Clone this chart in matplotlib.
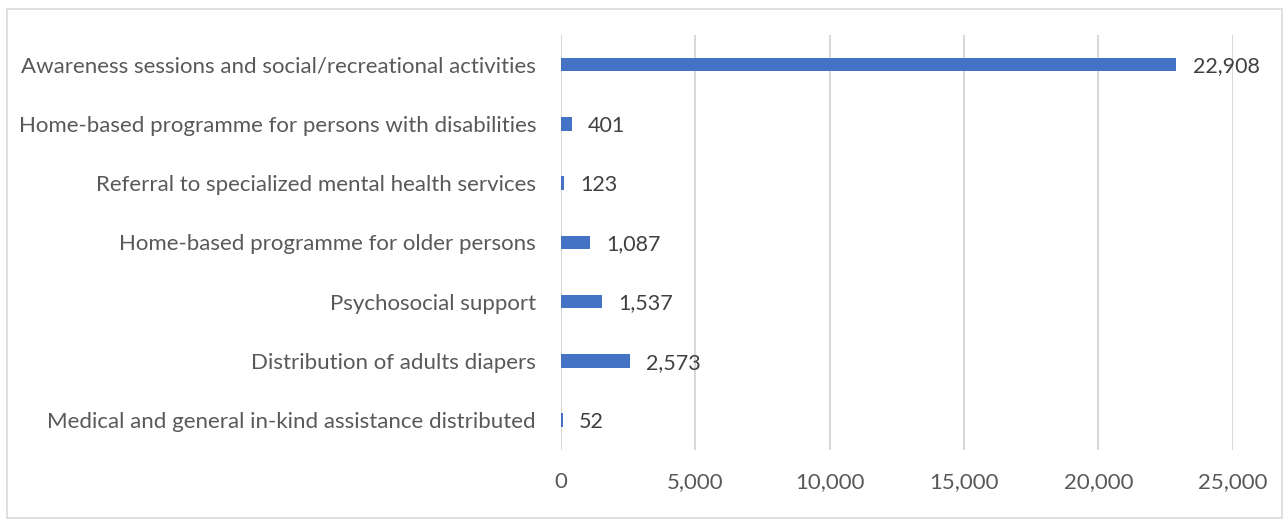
import matplotlib.pyplot as plt
from matplotlib.patches import Rectangle

# data, top to bottom as shown
categories = [
    "Awareness sessions and social/recreational activities",
    "Home-based programme for persons with disabilities",
    "Referral to specialized mental health services",
    "Home-based programme for older persons",
    "Psychosocial support",
    "Distribution of adults diapers",
    "Medical and general in-kind assistance distributed",
]
values = [22908, 401, 123, 1087, 1537, 2573, 52]
xticks = [0, 5000, 10000, 15000, 20000, 25000]

plt.rcParams['font.family'] = ['Lato', 'DejaVu Sans']

fig = plt.figure(figsize=(12.84, 5.2), dpi=100)
ax = fig.add_axes([0.437, 0.135, 0.523, 0.798])

# outer chart border
fig.patches.append(Rectangle((7 / 1284, 2 / 520), 1275 / 1284, 509 / 520,
                             transform=fig.transFigure, fill=False,
                             edgecolor='#d9d9d9', linewidth=1.2))

ypos = list(range(len(categories)))[::-1]
ax.barh(ypos, values, height=0.23, color='#4472C4', zorder=3)

for y, v in zip(ypos, values):
    ax.text(v + 600, y - 0.03, f"{v:,}", va='center', ha='left',
            fontsize=15.5, color='#404040')

ax.set_xlim(0, 25000)
ax.set_ylim(-0.5, len(categories) - 0.5)
ax.set_xticks(xticks)
ax.set_xticklabels([f"{t:,}" for t in xticks])
ax.set_yticks(ypos)
ax.set_yticklabels(categories)
ax.tick_params(axis='both', length=0, labelsize=16, colors='#595959')
ax.tick_params(axis='x', pad=16)
ax.tick_params(axis='y', pad=18)
ax.grid(axis='x', color='#d9d9d9', linewidth=1.5, zorder=0)
for s in ax.spines.values():
    s.set_visible(False)

fig.savefig('out.png', dpi=100)
